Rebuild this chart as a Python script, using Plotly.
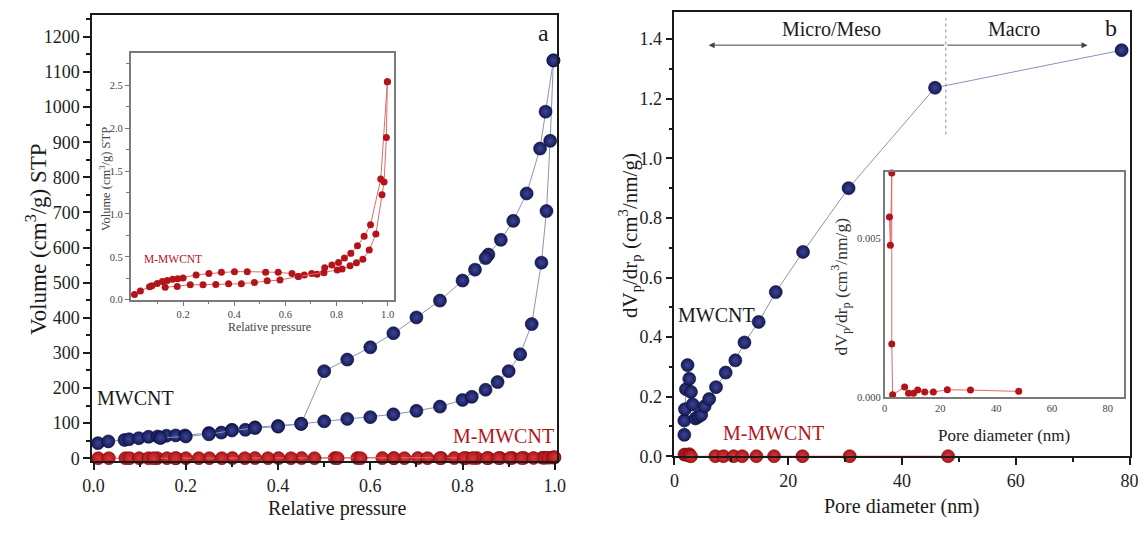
import plotly.graph_objects as go

# ---------------- data ----------------
# (a) N2 isotherm, MWCNT
mw_ads_p = [0.0095, 0.032, 0.067, 0.077, 0.098, 0.119, 0.139, 0.145, 0.158, 0.178, 0.198, 0.25, 0.277, 0.30, 0.329,
            0.35, 0.40, 0.45, 0.50, 0.55, 0.60, 0.65, 0.70, 0.751, 0.80, 0.82, 0.85, 0.876, 0.90, 0.925, 0.95,
            0.971, 0.982, 0.99, 0.997]
mw_ads_v = [43, 48, 52, 54, 57, 61, 62, 58, 64, 65, 65, 72, 73, 81, 81,
            88, 92, 98, 105, 112, 117, 125, 135, 147, 166, 175, 195, 217, 248, 296, 382,
            557, 704, 904, 1133]
mw_des_p = [0.997, 0.98, 0.968, 0.939, 0.91, 0.883, 0.856, 0.85, 0.827, 0.80, 0.751, 0.70, 0.65, 0.60, 0.55,
            0.50, 0.45, 0.40, 0.35, 0.30, 0.25, 0.20, 0.145]
mw_des_v = [1133, 987, 882, 754, 676, 622, 580, 570, 537, 506, 449, 401, 356, 316, 281,
            248, 98, 90, 86, 79, 68, 62, 58]

# (a) N2 isotherm, M-MWCNT (also inset)
mm_a_p = [0.01, 0.033, 0.069, 0.078, 0.099, 0.119, 0.138, 0.159, 0.179, 0.20, 0.251, 0.301, 0.35, 0.401, 0.451,
          0.523, 0.572, 0.626, 0.651, 0.674, 0.703, 0.724, 0.754, 0.782, 0.808, 0.831, 0.856, 0.882, 0.908, 0.933,
          0.973, 0.999]
mm_a_v = [0.061, 0.103, 0.152, 0.164, 0.19, 0.213, 0.225, 0.24, 0.244, 0.255, 0.29, 0.305, 0.32, 0.328, 0.328,
          0.32, 0.32, 0.305, 0.27, 0.29, 0.305, 0.297, 0.373, 0.404, 0.434, 0.488, 0.541, 0.629, 0.739, 0.873,
          1.406, 2.54]
mm_b_p = [0.13, 0.177, 0.228, 0.278, 0.328, 0.378, 0.428, 0.479, 0.529, 0.579, 0.651, 0.751, 0.803, 0.822, 0.853,
          0.878, 0.903, 0.928, 0.954, 0.978, 0.986, 0.995, 0.999]
mm_b_v = [0.145, 0.156, 0.175, 0.175, 0.179, 0.187, 0.187, 0.202, 0.221, 0.232, 0.27, 0.316, 0.347, 0.358, 0.396,
          0.431, 0.473, 0.579, 0.766, 1.223, 1.372, 1.89, 2.54]

# (b) pore size distribution
mw_pd = [1.73, 1.73, 1.85, 2.02, 2.3, 2.6, 2.9, 3.2, 3.7, 4.2, 4.7, 5.3, 6.1, 7.3, 9.0, 10.7, 12.3, 14.8,
         17.8, 22.6, 30.6, 45.8, 78.6]
mw_dv = [0.072, 0.12, 0.158, 0.225, 0.306, 0.26, 0.216, 0.174, 0.127, 0.133, 0.139, 0.168, 0.192, 0.232, 0.281,
         0.322, 0.382, 0.451, 0.551, 0.686, 0.900, 1.237, 1.363]
mm_pd = [1.76, 2.1, 2.6, 2.6, 2.9, 7.2, 8.6, 10.4, 11.9, 14.4, 17.5, 22.5, 30.8, 48.1]
mm_dv = [0.00568, 0.00479, 0.00707, 0.00168, 0.00008, 0.00033, 0.00013, 0.00013, 0.00023, 0.00017, 0.00017,
         0.00024, 0.00023, 0.00019]

# tick labels
a_xticks = [0.0, 0.2, 0.4, 0.6, 0.8, 1.0]
a_yticks = list(range(0, 1201, 100))
ai_xticks = [0.2, 0.4, 0.6, 0.8, 1.0]
ai_yticks = [0.0, 0.5, 1.0, 1.5, 2.0, 2.5]
b_xticks = [0, 20, 40, 60, 80]
b_yticks = [0.0, 0.2, 0.4, 0.6, 0.8, 1.0, 1.2, 1.4]
bi_xticks = [0, 20, 40, 60, 80]
bi_yticks = [0.0, 0.005]

W, H = 1144, 533
FONT = "Liberation Serif, Times New Roman, serif"
NAVY = "#161a5c"
RED = "#b3141a"
BLUE_LINE = "#8e92b4"
RED_LINE = "#e06a6a"


def px(x):
    return x / W


def py(y):
    return 1 - y / H


blue_marker = dict(size=13, color=NAVY, line=dict(width=0.6, color="#0a0c30"),
                   gradient=dict(type="radial", color="#3c4690"))
red_marker = dict(size=13, color=RED, line=dict(width=0.6, color="#6e0808"),
                  gradient=dict(type="radial", color="#d23a3a"))
red_small = dict(size=7, color=RED, line=dict(width=0))

fig = go.Figure()

# ---- panel (a) main
for xs, ys in [(mw_ads_p, mw_ads_v), (mw_des_p, mw_des_v)]:
    fig.add_trace(go.Scatter(x=xs, y=ys, mode="lines+markers", xaxis="x", yaxis="y",
                             line=dict(color=BLUE_LINE, width=1), marker=blue_marker, cliponaxis=False))
for xs, ys in [(mm_a_p, mm_a_v), (mm_b_p, mm_b_v)]:
    fig.add_trace(go.Scatter(x=xs, y=ys, mode="lines+markers", xaxis="x", yaxis="y",
                             line=dict(color=RED_LINE, width=1), marker=red_marker, cliponaxis=False))
# ---- panel (b) main
fig.add_trace(go.Scatter(x=mw_pd, y=mw_dv, mode="lines+markers", xaxis="x2", yaxis="y2",
                         line=dict(color=BLUE_LINE, width=1), marker=blue_marker, cliponaxis=False))
fig.add_trace(go.Scatter(x=mm_pd, y=mm_dv, mode="lines+markers", xaxis="x2", yaxis="y2",
                         line=dict(color=RED_LINE, width=1), marker=red_marker, cliponaxis=False))
# ---- inset (a)
for xs, ys in [(mm_a_p, mm_a_v), (mm_b_p, mm_b_v)]:
    fig.add_trace(go.Scatter(x=xs, y=ys, mode="lines+markers", xaxis="x3", yaxis="y3",
                             line=dict(color=RED_LINE, width=1), marker=red_small, cliponaxis=False))
# ---- inset (b)
fig.add_trace(go.Scatter(x=mm_pd, y=mm_dv, mode="lines+markers", xaxis="x4", yaxis="y4",
                         line=dict(color=RED_LINE, width=1), marker=red_small, cliponaxis=False))

main_font = dict(family=FONT, size=18, color="#222222")
inset_font = dict(family=FONT, size=10.5, color="#444444")
main_ax = dict(showline=True, linecolor="#1a1a1a", linewidth=1.8, mirror=True, ticks="outside",
               ticklen=7, tickwidth=1.5, tickcolor="#1a1a1a", showgrid=False, zeroline=False)
inset_ax = dict(showline=True, linecolor="#7a7a7a", linewidth=1.5, mirror=True, ticks="outside",
                ticklen=4, tickwidth=1, tickcolor="#7a7a7a", showgrid=False, zeroline=False)

fig.update_layout(
    width=W, height=H, margin=dict(l=0, r=0, t=0, b=0),
    font=dict(family=FONT, size=18, color="#222222"),
    paper_bgcolor="white", plot_bgcolor="white", showlegend=False,
    xaxis=dict(main_ax, domain=[px(83.6), px(556)], range=[-0.003, 1.0043], anchor="y",
               tickmode="array", tickvals=a_xticks, tickformat=".1f", tickfont=main_font,
               minor=dict(ticks="outside", ticklen=4, tickcolor="#1a1a1a", dtick=0.1, tick0=0)),
    yaxis=dict(main_ax, domain=[py(470), py(15.4)], range=[-8.4, 1262], anchor="x",
               tickmode="array", tickvals=a_yticks, tickfont=main_font,
               minor=dict(ticks="outside", ticklen=4, tickcolor="#1a1a1a", dtick=50, tick0=0)),
    xaxis2=dict(main_ax, domain=[px(675.7), px(1138.5)], range=[0, 80], anchor="y2",
                tickmode="array", tickvals=b_xticks, tickfont=main_font,
                minor=dict(ticks="outside", ticklen=4, tickcolor="#1a1a1a", dtick=10, tick0=0)),
    yaxis2=dict(main_ax, domain=[py(465), py(12.6)], range=[0, 1.49], anchor="x2",
                tickmode="array", tickvals=b_yticks, tickformat=".1f", tickfont=main_font,
                minor=dict(ticks="outside", ticklen=4, tickcolor="#1a1a1a", dtick=0.1, tick0=0)),
    xaxis3=dict(inset_ax, domain=[px(122.7), px(390)], range=[-0.005, 1.023], anchor="y3",
                tickmode="array", tickvals=ai_xticks, tickformat=".1f", tickfont=inset_font,
                minor=dict(ticks="outside", ticklen=2.5, tickcolor="#7a7a7a",
                           tickmode="array", tickvals=[0.1, 0.3, 0.5, 0.7, 0.9])),
    yaxis3=dict(inset_ax, domain=[py(305.7), py(54)], range=[-0.002, 2.875], anchor="x3",
                tickmode="array", tickvals=ai_yticks, tickformat=".1f", tickfont=inset_font,
                minor=dict(ticks="outside", ticklen=2.5, tickcolor="#7a7a7a", dtick=0.25, tick0=0)),
    xaxis4=dict(inset_ax, domain=[px(889.3), px(1133.3)], range=[0, 86], anchor="y4",
                tickmode="array", tickvals=bi_xticks, ticks="", tickfont=inset_font),
    yaxis4=dict(inset_ax, domain=[py(405), py(175.3)], range=[0, 0.0071], anchor="x4",
                tickmode="array", tickvals=bi_yticks, tickformat=".3f", ticks="", tickfont=inset_font),
)

ann = []


def txt(x, y, s, size, color="#1a1a1a", angle=0, xref="paper", yref="paper"):
    ann.append(dict(x=x, y=y, xref=xref, yref=yref, text=s, showarrow=False, textangle=angle,
                    font=dict(family=FONT, size=size, color=color), xanchor="center", yanchor="middle"))


# axis titles
txt(px(27), py(244), "Volume (cm<sup>3</sup>/g) STP", 23, angle=-90)
txt(px(333), py(518), "Relative pressure", 20)
txt(px(630), py(240), "dV<sub>p</sub>/dr<sub>p</sub> (cm<sup>3</sup>/nm/g)", 21, angle=-90)
txt(px(907), py(516), "Pore diameter (nm)", 20)
txt(px(96), py(182), "Volume (cm<sup>3</sup>/g) STP", 12.5, color="#444", angle=-90)
txt(px(264), py(333), "Relative pressure", 12, color="#444")
txt(px(845), py(292), "dV<sub>p</sub>/dr<sub>p</sub> (cm<sup>3</sup>/nm/g)", 17.5, color="#333", angle=-90)
txt(px(1011), py(444), "Pore diameter (nm)", 17, color="#222")
# labels
txt(px(543), py(34), "a", 24)
txt(px(1119.7), py(29), "b", 24)
txt(px(128), py(406), "MWCNT", 20)
txt(px(501.5), py(444), "M-MWCNT", 20, color=RED)
txt(px(166), py(264), "M-MWCNT", 11.5, color=RED)
txt(px(718), py(321), "MWCNT", 20)
txt(px(776), py(441), "M-MWCNT", 20, color=RED)
txt(27.6, 1.433, "Micro/Meso", 20, xref="x2", yref="y2")
txt(59.6, 1.433, "Macro", 20, xref="x2", yref="y2")

# double arrow
for tip in (6.0, 72.6):
    ann.append(dict(x=tip, y=1.38, ax=47.7, ay=1.38, xref="x2", yref="y2", axref="x2", ayref="y2",
                    text="", showarrow=True, arrowhead=2, arrowsize=1.2, arrowwidth=1, arrowcolor="#444"))
fig.update_layout(annotations=ann)

fig.add_shape(type="line", xref="x2", yref="y2", x0=47.7, x1=47.7, y0=1.08, y1=1.47,
              line=dict(color="#888", width=1, dash="dot"))

fig.write_html("out.html")
